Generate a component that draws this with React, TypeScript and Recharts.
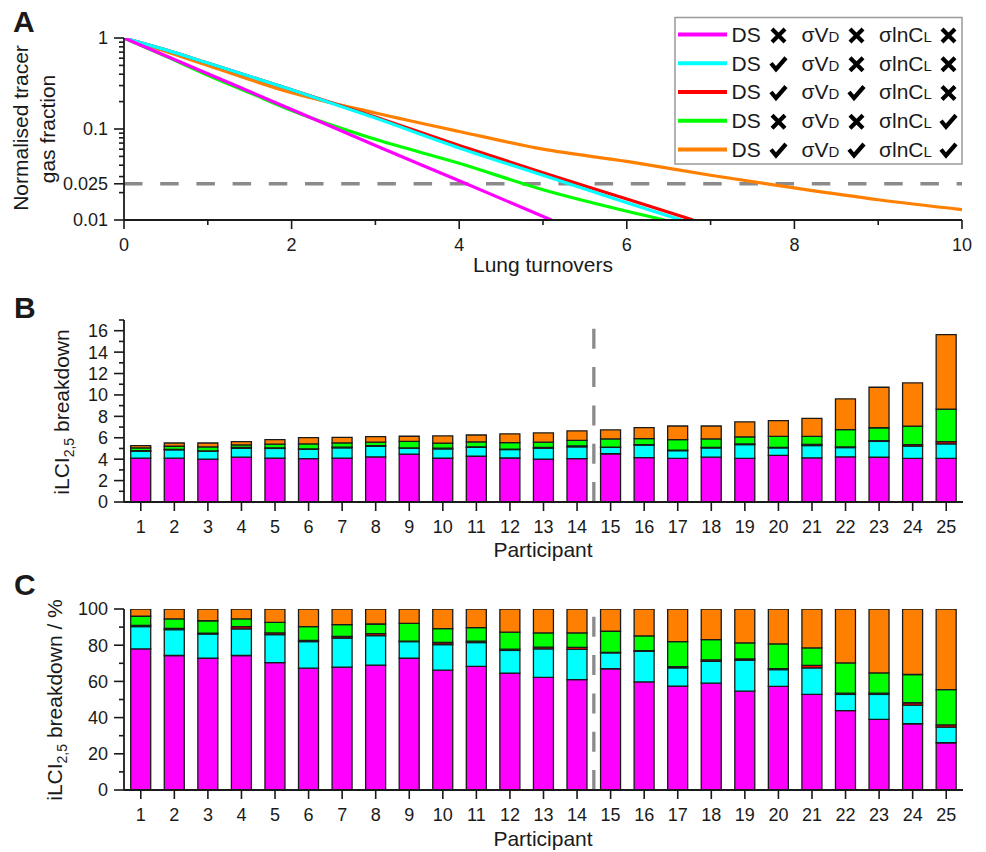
import React from 'react';
import { Bar, BarChart, Line, LineChart, ReferenceLine, XAxis, YAxis } from 'recharts';

const FONT = '"Liberation Sans", Arial, Helvetica, sans-serif';
const INK = '#1a1a1a';
const DASH_GREY = '#8a8a8a';

const MAGENTA = '#FF00FF';
const CYAN = '#00FFFF';
const RED = '#FF0000';
const GREEN = '#00FF00';
const ORANGE = '#FF8000';

// ---- panel A: washout curves, [lung turnovers, normalised fraction] ----
const decayBase = [[0, 1], [1, 0.405], [2, 0.164], [3, 0.066], [4, 0.027], [5.1, 0.01]];
const decayDS = [[0, 1], [0.5, 0.74], [1, 0.53], [2, 0.27], [3, 0.132], [4, 0.062], [5, 0.031], [6, 0.0155], [6.65, 0.01]];
const decayDSVD = [[0, 1], [0.5, 0.74], [1, 0.53], [2, 0.27], [3, 0.135], [4, 0.066], [5, 0.033], [6, 0.017], [6.79, 0.01]];
const decayCL = [[0, 1], [0.5, 0.63], [1, 0.39], [1.5, 0.25], [2, 0.16], [3, 0.077], [4, 0.042], [5, 0.0215], [6, 0.0125], [6.45, 0.01]];
const decayAll = [[0, 1], [0.5, 0.71], [1, 0.5], [2, 0.25], [3, 0.15], [4, 0.094], [5, 0.06], [6, 0.044], [7, 0.031], [8, 0.0225], [9, 0.0167], [10, 0.013]];

const turnoverTicks = [0, 1, 2, 3, 4, 5, 6, 7, 8, 9, 10];
const fractionTicks = [0.01, 0.02, 0.025, 0.03, 0.04, 0.05, 0.06, 0.07, 0.08, 0.09, 0.1, 0.2, 0.3, 0.4, 0.5, 0.6, 0.7, 0.8, 0.9, 1];
const fractionLabels = [1, 0.1, 0.025, 0.01];
const threshold = 0.025;

const legendRows = [
  { color: MAGENTA, ds: false, vd: false, cl: false },
  { color: CYAN, ds: true, vd: false, cl: false },
  { color: RED, ds: true, vd: true, cl: false },
  { color: GREEN, ds: false, vd: false, cl: true },
  { color: ORANGE, ds: true, vd: true, cl: true },
];

// ---- panels B and C: iLCI2.5 breakdown per participant ----
const participants = [1, 2, 3, 4, 5, 6, 7, 8, 9, 10, 11, 12, 13, 14, 15, 16, 17, 18, 19, 20, 21, 22, 23, 24, 25];
const totalILCI = [5.26, 5.51, 5.51, 5.64, 5.83, 6.01, 6.04, 6.1, 6.14, 6.17, 6.26, 6.36, 6.45, 6.64, 6.73, 6.95, 7.1, 7.1, 7.48, 7.6, 7.82, 9.63, 10.72, 11.12, 15.64];
// percentage shares (magenta, cyan, red, green, orange)
const shareBase = [78.0, 74.3, 72.8, 74.3, 70.4, 67.3, 67.9, 69.0, 72.8, 66.2, 68.3, 64.6, 62.2, 61.0, 67.0, 59.7, 57.4, 59.0, 54.6, 57.2, 52.8, 43.8, 39.0, 36.6, 26.1];
const shareDS = [12.3, 14.3, 13.4, 14.7, 15.4, 14.7, 16.0, 16.3, 9.2, 14.2, 13.2, 12.5, 15.8, 16.7, 8.8, 16.9, 10.1, 12.1, 17.1, 9.3, 14.7, 9.0, 13.8, 10.3, 8.6];
const shareVD = [0.7, 0.7, 0.4, 1.3, 1.0, 0.7, 0.9, 1.1, 0.2, 1.1, 0.7, 0.7, 0.9, 1.1, 0.2, 0.4, 0.6, 0.8, 0.7, 0.6, 1.3, 0.7, 0.7, 1.3, 1.3];
const shareCL = [5.0, 5.2, 6.9, 4.2, 5.8, 7.6, 6.6, 5.3, 9.9, 7.7, 7.5, 9.4, 7.9, 8.0, 11.7, 8.1, 13.9, 11.2, 8.9, 13.6, 9.7, 16.7, 11.2, 15.6, 19.5];
const shareAll = [4.0, 5.5, 6.5, 5.5, 7.4, 9.7, 8.6, 8.3, 7.9, 10.8, 10.3, 12.8, 13.2, 13.2, 12.3, 14.9, 18.0, 16.9, 18.7, 19.3, 21.5, 29.8, 35.3, 36.2, 44.5];
const splitAfter = 14;

const ilciTicks = [0, 1, 2, 3, 4, 5, 6, 7, 8, 9, 10, 11, 12, 13, 14, 15, 16, 17];
const pctTicks = [0, 10, 20, 30, 40, 50, 60, 70, 80, 90, 100];

const segments = [
  { key: 'base', color: MAGENTA, share: shareBase },
  { key: 'ds', color: CYAN, share: shareDS },
  { key: 'vd', color: RED, share: shareVD },
  { key: 'cl', color: GREEN, share: shareCL },
  { key: 'all', color: ORANGE, share: shareAll },
];

const pctRows = participants.map((p, i) => {
  const row: Record<string, number> = { p };
  segments.forEach((s) => (row[s.key] = s.share[i]));
  return row;
});
const absRows = participants.map((p, i) => {
  const row: Record<string, number> = { p };
  segments.forEach((s) => (row[s.key] = (s.share[i] * totalILCI[i]) / 100));
  return row;
});

const toPoints = (arr: number[][]) => arr.map(([t, f]) => ({ t, f }));

const MAJOR = 10;
const MINOR = 5;

function leftTick(isMajor: (v: number) => boolean, gap: number) {
  return (props: any) => {
    const { x, y, payload } = props;
    const v = payload.value;
    const axisX = x + MAJOR + gap;
    const major = isMajor(v);
    return (
      <g>
        <line x1={axisX - (major ? MAJOR : MINOR)} x2={axisX} y1={y} y2={y} stroke={INK} strokeWidth={1.6} />
        {major && (
          <text x={x} y={y} dy="0.355em" textAnchor="end" fontSize={18} fontFamily={FONT} fill={INK}>
            {v}
          </text>
        )}
      </g>
    );
  };
}

function bottomTick(isMajor: (v: number) => boolean, size: number, gap: number) {
  return (props: any) => {
    const { x, y, payload } = props;
    const v = payload.value;
    const axisY = y - size - gap;
    const major = isMajor(v);
    return (
      <g>
        <line x1={x} x2={x} y1={axisY} y2={axisY + (major ? size : MINOR)} stroke={INK} strokeWidth={1.6} />
        {major && (
          <text x={x} y={y} dy="0.71em" textAnchor="middle" fontSize={18} fontFamily={FONT} fill={INK}>
            {v}
          </text>
        )}
      </g>
    );
  };
}

function Cross({ cx, cy }: { cx: number; cy: number }) {
  return (
    <path d={`M${cx - 6.5},${cy - 6.5} L${cx + 6.5},${cy + 6.5} M${cx + 6.5},${cy - 6.5} L${cx - 6.5},${cy + 6.5}`} stroke="#000" strokeWidth={4.2} />
  );
}

function Tick({ cx, cy }: { cx: number; cy: number }) {
  return (
    <path d={`M${cx - 7.5},${cy - 1} L${cx - 2.5},${cy + 5} L${cx + 7.5},${cy - 6.5}`} stroke="#000" strokeWidth={4.2} fill="none" />
  );
}

function Mark({ on, cx, cy }: { on: boolean; cx: number; cy: number }) {
  return on ? <Tick cx={cx} cy={cy} /> : <Cross cx={cx} cy={cy} />;
}

function Overlay() {
  const rowY = legendRows.map((_, i) => 34.5 + i * 28.75);
  return (
    <svg width={986} height={852} style={{ position: 'absolute', left: 0, top: 0, pointerEvents: 'none' }} fontFamily={FONT} fill={INK}>
      <text x={13} y={32} fontSize={30} fontWeight="bold">A</text>
      <text x={14} y={318} fontSize={30} fontWeight="bold">B</text>
      <text x={14} y={595} fontSize={30} fontWeight="bold">C</text>

      <text transform="translate(27.5,128) rotate(-90)" textAnchor="middle" fontSize={21}>Normalised tracer</text>
      <text transform="translate(54.5,129) rotate(-90)" textAnchor="middle" fontSize={21}>gas fraction</text>
      <text x={543} y={272} textAnchor="middle" fontSize={21}>Lung turnovers</text>

      <text transform="translate(68.5,412) rotate(-90)" textAnchor="middle" fontSize={21}>
        iLCI<tspan fontSize={14} dy={5}>2,5</tspan>
        <tspan dy={-5}> breakdown</tspan>
      </text>
      <text x={543} y={557} textAnchor="middle" fontSize={21}>Participant</text>

      <text transform="translate(61.5,700) rotate(-90)" textAnchor="middle" fontSize={21}>
        iLCI<tspan fontSize={14} dy={5}>2,5</tspan>
        <tspan dy={-5}> breakdown / %</tspan>
      </text>
      <text x={543} y={846} textAnchor="middle" fontSize={21}>Participant</text>

      <rect x={675} y={17.5} width={287} height={146.5} fill="#fff" stroke="#999" strokeWidth={1.5} />
      {legendRows.map((r, i) => (
        <g key={i}>
          <line x1={678} x2={727} y1={rowY[i]} y2={rowY[i]} stroke={r.color} strokeWidth={4} />
          <text x={731.5} y={rowY[i] + 7.3} fontSize={21}>DS</text>
          <Mark on={r.ds} cx={778.5} cy={rowY[i] + 1} />
          <text x={801.5} y={rowY[i] + 7.3} fontSize={21}>
            σV<tspan fontSize={15}>D</tspan>
          </text>
          <Mark on={r.vd} cx={856.5} cy={rowY[i] + 1} />
          <text x={879} y={rowY[i] + 7.3} fontSize={21}>
            σlnC<tspan fontSize={15}>L</tspan>
          </text>
          <Mark on={r.cl} cx={948.5} cy={rowY[i] + 1} />
        </g>
      ))}
    </svg>
  );
}

const axisLine = { stroke: INK, strokeWidth: 1.8 };

function PanelA() {
  const series = [
    { data: decayAll, color: ORANGE },
    { data: decayDSVD, color: RED },
    { data: decayCL, color: GREEN },
    { data: decayDS, color: CYAN },
    { data: decayBase, color: MAGENTA },
  ];
  return (
    <LineChart width={986} height={290} margin={{ top: 38, right: 24, bottom: 0, left: 0 }}>
      <XAxis
        dataKey="t"
        type="number"
        domain={[0, 10]}
        ticks={turnoverTicks}
        interval={0}
        allowDataOverflow
        height={70}
        tickSize={9}
        tickMargin={9}
        tickLine={false}
        axisLine={axisLine}
        tick={bottomTick((v) => v % 2 === 0, 9, 9)}
      />
      <YAxis
        type="number"
        scale="log"
        domain={[0.01, 1]}
        ticks={fractionTicks}
        interval={0}
        allowDataOverflow
        width={124}
        tickSize={MAJOR}
        tickMargin={6}
        tickLine={false}
        axisLine={axisLine}
        tick={leftTick((v) => fractionLabels.includes(v), 6)}
      />
      <ReferenceLine y={threshold} stroke={DASH_GREY} strokeWidth={3.5} strokeDasharray="18.5 17.7" />
      {series.map((s, i) => (
        <Line
          key={i}
          data={toPoints(s.data)}
          dataKey="f"
          type="monotone"
          stroke={s.color}
          strokeWidth={3.2}
          dot={false}
          activeDot={false}
          isAnimationActive={false}
        />
      ))}
    </LineChart>
  );
}

function StackPanel({ rows, height, top, yTicks, yMax, isMajor, xHeight }: any) {
  return (
    <BarChart width={986} height={height} data={rows} margin={{ top, right: 23, bottom: 0, left: 0 }} barCategoryGap="20%">
      <XAxis
        dataKey="p"
        type="category"
        interval={0}
        height={xHeight}
        tickSize={9}
        tickMargin={9}
        tickLine={false}
        axisLine={axisLine}
        tick={bottomTick(() => true, 9, 9)}
      />
      <YAxis
        type="number"
        domain={[0, yMax]}
        ticks={yTicks}
        interval={0}
        allowDataOverflow
        width={124}
        tickSize={MAJOR}
        tickMargin={6}
        tickLine={false}
        axisLine={axisLine}
        tick={leftTick(isMajor, 6)}
      />
      <ReferenceLine x={splitAfter} position="end" stroke={DASH_GREY} strokeWidth={3.3} strokeDasharray="20 18.3" />
      {segments.map((s) => (
        <Bar key={s.key} dataKey={s.key} stackId="a" fill={s.color} stroke={INK} strokeWidth={1.3} isAnimationActive={false} />
      ))}
    </BarChart>
  );
}

export default function App() {
  return (
    <div style={{ position: 'absolute', left: 0, top: 0, width: 986, height: 852, background: '#fff', fontFamily: FONT }}>
      <div style={{ position: 'absolute', left: 0, top: 0 }}>
        <PanelA />
      </div>
      <div style={{ position: 'absolute', left: 0, top: 300 }}>
        <StackPanel rows={absRows} height={270} top={20} xHeight={68} yTicks={ilciTicks} yMax={17} isMajor={(v: number) => v % 2 === 0 && v <= 16} />
      </div>
      <div style={{ position: 'absolute', left: 0, top: 590 }}>
        <StackPanel rows={pctRows} height={262} top={19} xHeight={62} yTicks={pctTicks} yMax={100} isMajor={(v: number) => v % 20 === 0} />
      </div>
      <Overlay />
    </div>
  );
}
